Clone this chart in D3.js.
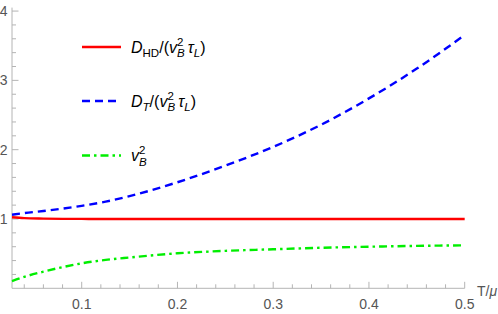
<!DOCTYPE html>
<html>
<head>
<meta charset="utf-8">
<script src="https://cdn.jsdelivr.net/npm/d3@7"></script>
<style>
body { margin: 0; background: #fff; }
svg { display: block; }
svg text { font-family: "Liberation Sans", "Arial", sans-serif; }
.tick-label { fill: #555; font-size: 14px; }
</style>
</head>
<body>
<div class="container"></div>
<script>
// T/mu sample points
var tVals = [0.0272, 0.04, 0.06, 0.08, 0.1, 0.125, 0.15, 0.2, 0.25, 0.3, 0.35, 0.4, 0.45, 0.5];
var dHD   = [1.025, 1.013, 1.006, 1.002, 1.001, 1.0, 1.0, 1.0, 1.0, 1.0, 1.0, 1.0, 1.0, 0.999];
var dT    = [1.062, 1.085, 1.115, 1.15, 1.19, 1.25, 1.33, 1.53, 1.77, 2.04, 2.36, 2.74, 3.17, 3.655];
var vB2   = [0.105, 0.165, 0.24, 0.305, 0.36, 0.41, 0.445, 0.505, 0.54, 0.563, 0.585, 0.60, 0.612, 0.62];

var xMajor = [0.1, 0.2, 0.3, 0.4, 0.5];
var yMajor = [1, 2, 3, 4];

const WIDTH = 498;
const HEIGHT = 314;

var svg = d3.select('.container').append('svg')
	.attr('width', WIDTH)
	.attr('height', HEIGHT);

var xScale = d3.scaleLinear().domain([0.0272, 0.5]).range([12, 464.7]);
var yScale = d3.scaleLinear().domain([0, 4.05]).range([288.3, 7.6]);

var axisColor = '#b4b4b4';

// axes lines
svg.append('line')
	.attr('x1', xScale(0.0272)).attr('x2', xScale(0.5))
	.attr('y1', yScale(0)).attr('y2', yScale(0))
	.attr('stroke', axisColor);
svg.append('line')
	.attr('x1', xScale(0.0272)).attr('x2', xScale(0.0272))
	.attr('y1', yScale(0)).attr('y2', yScale(4.05))
	.attr('stroke', axisColor);

// x ticks (minor every 0.02)
var xMinor = d3.range(0.04, 0.5001, 0.02);
svg.selectAll('.xtick').data(xMinor).enter().append('line')
	.attr('x1', d => xScale(d)).attr('x2', d => xScale(d))
	.attr('y1', yScale(0))
	.attr('y2', d => yScale(0) - (xMajor.some(m => Math.abs(m - d) < 1e-6) ? 6.5 : 4))
	.attr('stroke', axisColor);

svg.selectAll('.xlab').data(xMajor).enter().append('text')
	.attr('class', 'tick-label')
	.attr('x', d => xScale(d)).attr('y', 309)
	.attr('text-anchor', 'middle')
	.text(d => d3.format('.1f')(d));

// y ticks (minor every 0.2)
var yMinor = d3.range(0.2, 4.0001, 0.2);
svg.selectAll('.ytick').data(yMinor).enter().append('line')
	.attr('x1', xScale(0.0272))
	.attr('x2', d => xScale(0.0272) + (yMajor.some(m => Math.abs(m - d) < 1e-6) ? 6.5 : 4))
	.attr('y1', d => yScale(d)).attr('y2', d => yScale(d))
	.attr('stroke', axisColor);

svg.selectAll('.ylab').data(yMajor).enter().append('text')
	.attr('class', 'tick-label')
	.attr('x', 7.5).attr('y', d => yScale(d) + 5)
	.attr('text-anchor', 'end')
	.text(d => d);

// axis label
var xl = svg.append('text').attr('class', 'tick-label')
	.attr('x', 477).attr('y', 296);
xl.append('tspan').text('T/');
xl.append('tspan').attr('font-style', 'italic').text('μ');

// curves
var series = [
	{vals: dHD, color: '#ff0000', dash: null},
	{vals: dT, color: '#0000ff', dash: '8,5'},
	{vals: vB2, color: '#00ee00', dash: '8,4,2.5,4'}
];

var line = d3.line()
	.x(d => xScale(d[0]))
	.y(d => yScale(d[1]))
	.curve(d3.curveMonotoneX);

series.forEach(function(s){
	svg.append('path')
		.attr('d', line(tVals.map((t, i) => [t, s.vals[i]])))
		.attr('fill', 'none')
		.attr('stroke', s.color)
		.attr('stroke-width', 2.4)
		.attr('stroke-dasharray', s.dash);
});

// legend
var legY = [47, 101, 155.5];
series.forEach(function(s, i){
	svg.append('line')
		.attr('x1', 82).attr('x2', 121)
		.attr('y1', legY[i]).attr('y2', legY[i])
		.attr('stroke', s.color)
		.attr('stroke-width', 2.4)
		.attr('stroke-dasharray', s.dash);
});

var FS = 16, SS = 11.5;
function vB(t){
	t.append('tspan').attr('font-style', 'italic').text('v');
	t.append('tspan').attr('font-size', SS).attr('dy', -7).text('2');
	t.append('tspan').attr('font-size', SS).attr('font-style', 'italic').attr('dx', -6.4).attr('dy', 11.5).text('B');
	t.append('tspan').attr('dy', -4.5).text('\u2009');
}
function tail(t){
	t.append('tspan').attr('font-style', 'italic').text('τ');
	t.append('tspan').attr('font-size', SS).attr('font-style', 'italic').attr('dy', 4.5).text('L');
	t.append('tspan').attr('dy', -4.5).text(')');
}

var t1 = svg.append('text').attr('x', 131).attr('y', legY[0] + 5.5).attr('font-size', FS).attr('fill', '#000');
t1.append('tspan').attr('font-style', 'italic').text('D');
t1.append('tspan').attr('font-size', SS).attr('dy', 4.5).text('HD');
t1.append('tspan').attr('dy', -4.5).text('/(');
vB(t1); tail(t1);

var t2 = svg.append('text').attr('x', 131).attr('y', legY[1] + 5.5).attr('font-size', FS).attr('fill', '#000');
t2.append('tspan').attr('font-style', 'italic').text('D');
t2.append('tspan').attr('font-size', SS).attr('font-style', 'italic').attr('dy', 4.5).text('T');
t2.append('tspan').attr('dy', -4.5).text('/(');
vB(t2); tail(t2);

var t3 = svg.append('text').attr('x', 131).attr('y', legY[2] + 5.5).attr('font-size', FS).attr('fill', '#000');
vB(t3);
</script>
</body>
</html>
